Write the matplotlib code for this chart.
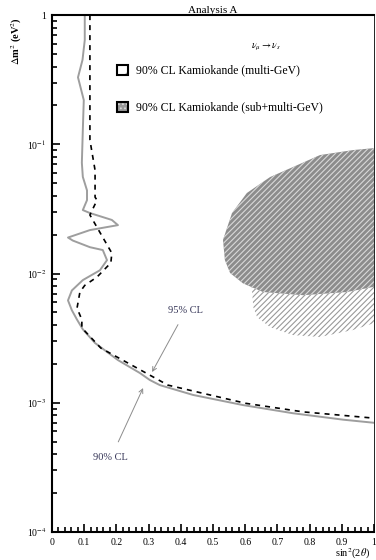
import numpy as np
import matplotlib
matplotlib.use('Agg')
import matplotlib.pyplot as plt
from matplotlib.patches import Polygon, Rectangle
from matplotlib.ticker import FixedLocator, MultipleLocator, LogLocator, NullFormatter

plt.rcParams['font.family'] = ['Liberation Serif', 'DejaVu Serif']
plt.rcParams['mathtext.fontset'] = 'stix'
plt.rcParams['hatch.linewidth'] = 0.8

# 90% CL exclusion (solid gray), from top down to sin^2=1
s90 = [0.102, 0.102, 0.095, 0.081, 0.099, 0.096, 0.093, 0.096, 0.109, 0.109, 0.096,
       0.118, 0.186, 0.205, 0.118, 0.050, 0.065, 0.118, 0.158, 0.171, 0.149, 0.096,
       0.062, 0.050, 0.062, 0.078, 0.096, 0.134, 0.205, 0.273, 0.304, 0.335, 0.438,
       0.593, 0.748, 0.904, 1.0]
d90 = [1.0, 0.64, 0.45, 0.33, 0.22, 0.129, 0.072, 0.056, 0.044, 0.037, 0.031,
       0.0294, 0.026, 0.0237, 0.0217, 0.019, 0.018, 0.016, 0.0152, 0.0127, 0.0106, 0.0089,
       0.0074, 0.0062, 0.0052, 0.0044, 0.0037, 0.0029, 0.00214, 0.0017, 0.0015, 0.00137, 0.00115,
       0.00096, 0.00083, 0.00074, 0.0007]

# 95% CL exclusion (black dashed)
s95 = [0.118, 0.118, 0.134, 0.134, 0.140, 0.118, 0.186, 0.183, 0.140, 0.102, 0.087,
       0.078, 0.093, 0.093, 0.152, 0.36, 0.602, 0.78, 0.925, 1.0]
d95 = [1.0, 0.108, 0.063, 0.039, 0.037, 0.0284, 0.0144, 0.0121, 0.0094, 0.0081, 0.0072,
       0.0054, 0.0044, 0.0038, 0.00265, 0.00137, 0.00099, 0.00085, 0.00079, 0.00076]

# Kamiokande sub+multi-GeV allowed region (dark)
dark_s = [1.0, 0.935, 0.832, 0.748, 0.677, 0.605, 0.559, 0.531, 0.537, 0.553, 0.593,
          0.655, 0.78, 0.916, 1.0]
dark_d = [0.0935, 0.0903, 0.0826, 0.0667, 0.0558, 0.042, 0.0294, 0.0182, 0.0127, 0.0101, 0.0084,
          0.0072, 0.0068, 0.0072, 0.0079]

# Kamiokande multi-GeV allowed region (light)
light_s = [0.62, 0.625, 0.637, 0.677, 0.748, 0.832, 0.935, 1.0, 1.0, 0.75, 0.64]
light_d = [0.008, 0.0055, 0.0046, 0.00385, 0.00334, 0.00323, 0.00366, 0.00414, 0.025, 0.02, 0.012]

fig = plt.figure(figsize=(3.76, 5.6), dpi=100)
ax = fig.add_axes([0.138, 0.05, 0.857, 0.923])
ax.set_yscale('log')
ax.set_xlim(0, 1)
ax.set_ylim(1e-4, 1)

ax.add_patch(Polygon(np.column_stack([light_s, light_d]), closed=True,
                     facecolor='white', edgecolor='0.6', lw=0, hatch='//////'))
ax.add_patch(Polygon(np.column_stack([dark_s, dark_d]), closed=True,
                     facecolor='0.55', edgecolor='0.85', lw=0, hatch='//////'))

ax.plot(s90, d90, color='0.62', lw=1.4)
ax.plot(s95, d95, color='black', lw=1.2, ls=(0, (3, 3)))

# legend
ax.text(0.665, 0.938, r'$\nu_\mu \rightarrow \nu_s$', transform=ax.transAxes,
        ha='center', va='center', fontsize=7)
ax.add_patch(Rectangle((0.202, 0.884), 0.034, 0.0193, transform=ax.transAxes,
                       facecolor='white', edgecolor='0.6', lw=0, hatch='/'))
ax.add_patch(Rectangle((0.202, 0.884), 0.034, 0.0193, transform=ax.transAxes,
                       facecolor='none', edgecolor='black', lw=1.5))
ax.text(0.261, 0.894, '90% CL Kamiokande (multi-GeV)', transform=ax.transAxes,
        ha='left', va='center', fontsize=8.5)
ax.add_patch(Rectangle((0.202, 0.812), 0.034, 0.0193, transform=ax.transAxes,
                       facecolor='0.6', edgecolor='0.85', lw=0, hatch='....'))
ax.add_patch(Rectangle((0.202, 0.812), 0.034, 0.0193, transform=ax.transAxes,
                       facecolor='none', edgecolor='black', lw=1.5))
ax.text(0.261, 0.822, '90% CL Kamiokande (sub+multi-GeV)', transform=ax.transAxes,
        ha='left', va='center', fontsize=8.5)

# annotations
ax.annotate('95% CL', xy=(0.311, 0.00173), xytext=(0.416, 0.00522),
            fontsize=7.5, ha='center', va='center', color='#333355',
            arrowprops=dict(arrowstyle='->', color='0.55', lw=0.7, shrinkA=6, shrinkB=0))
ax.annotate('90% CL', xy=(0.283, 0.0013), xytext=(0.183, 0.000374),
            fontsize=7.5, ha='center', va='center', color='#333355',
            arrowprops=dict(arrowstyle='->', color='0.55', lw=0.7, shrinkA=7, shrinkB=0))

# ticks
xt = np.arange(0, 11) / 10
ax.set_xticks(xt)
ax.set_xticklabels(['0'] + ['%.1f' % v for v in xt[1:-1]] + ['1'])
ax.xaxis.set_minor_locator(MultipleLocator(0.02))
ax.yaxis.set_major_locator(FixedLocator([1e-4, 1e-3, 1e-2, 1e-1, 1]))
ax.yaxis.set_minor_locator(LogLocator(base=10, subs=np.arange(2, 10)))
ax.yaxis.set_minor_formatter(NullFormatter())
ax.set_yticklabels([r'10$^{-4}$', r'10$^{-3}$', r'10$^{-2}$', r'10$^{-1}$', '1'])
ax.tick_params(which='both', direction='in', labelsize=7, width=1.2)
ax.tick_params(which='major', length=6, pad=4)
ax.tick_params(which='minor', length=3.5)
ax.tick_params(axis='x', which='both', top=False)
ax.tick_params(axis='y', which='both', right=False)

for side in ['left', 'bottom', 'top']:
    ax.spines[side].set_linewidth(1.5)
ax.spines['right'].set_linewidth(0.6)

ax.set_title('Analysis A', fontsize=8, pad=-1)
fig.text(0.985, 0.011, r'sin$^2$(2$\theta$)', fontsize=7.5, ha='right', va='center')
fig.text(0.045, 0.97, r'$\Delta$m$^2$ (eV$^2$)', fontsize=7.5, rotation=90,
         ha='center', va='top', fontweight='bold')

fig.savefig('out.png', dpi=100)
